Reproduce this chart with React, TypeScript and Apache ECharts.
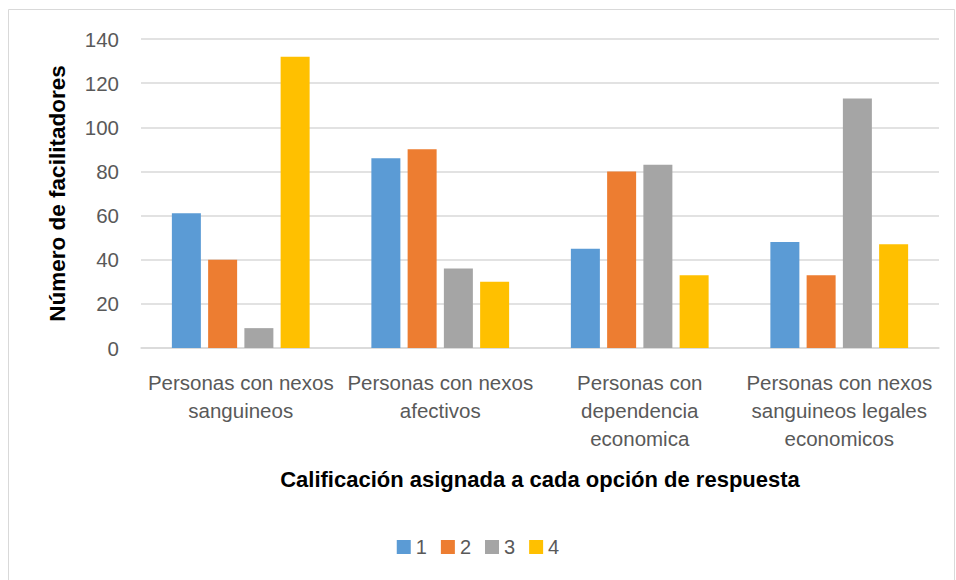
import React, { useEffect, useRef } from "react";
import * as echarts from "echarts";

const categories = [
  "Personas con nexos\nsanguineos",
  "Personas con nexos\nafectivos",
  "Personas con\ndependencia\neconomica",
  "Personas con nexos\nsanguineos legales\neconomicos",
];
const seriesNames = ["1", "2", "3", "4"];
const s1 = [61, 86, 45, 48];
const s2 = [40, 90, 80, 33];
const s3 = [9, 36, 83, 113];
const s4 = [132, 30, 33, 47];
const colors = ["#5B9BD5", "#ED7D31", "#A5A5A5", "#FFC000"];
const yTicks = { min: 0, max: 140, interval: 20 };

const FONT = "'Liberation Sans', Arial, sans-serif";

export default function App() {
  const ref = useRef<HTMLDivElement>(null);
  useEffect(() => {
    if (!ref.current) return;
    const chart = echarts.init(ref.current, null, { renderer: "svg" });
    const data = [s1, s2, s3, s4];
    chart.setOption({
      animation: false,
      textStyle: { fontFamily: FONT },
      graphic: [
        {
          type: "rect",
          shape: { x: 8.5, y: 9.5, width: 946, height: 580 },
          style: { fill: "none", stroke: "#d9d9d9", lineWidth: 1 },
          silent: true,
        },
      ],
      grid: { left: 141, right: 17, top: 39, bottom: 232 },
      legend: {
        data: seriesNames,
        bottom: 18,
        left: "center",
        icon: "rect",
        itemWidth: 14,
        itemHeight: 14,
        itemGap: 14,
        textStyle: { fontSize: 20, color: "#595959", fontFamily: FONT },
      },
      xAxis: {
        type: "category",
        data: categories,
        name: "Calificación asignada a cada opción de respuesta",
        nameLocation: "middle",
        nameGap: 120,
        nameTextStyle: { fontSize: 22, fontWeight: "bold", color: "#000", fontFamily: FONT },
        axisLine: { lineStyle: { color: "#d9d9d9", width: 1.5 } },
        axisTick: { show: false },
        axisLabel: { fontSize: 20.5, color: "#595959", lineHeight: 28, margin: 20, interval: 0, fontFamily: FONT },
      },
      yAxis: {
        type: "value",
        min: yTicks.min,
        max: yTicks.max,
        interval: yTicks.interval,
        name: "Número de facilitadores",
        nameLocation: "middle",
        nameGap: 72,
        nameTextStyle: { fontSize: 22.5, fontWeight: "bold", color: "#000", fontFamily: FONT },
        axisLine: { show: false },
        axisTick: { show: false },
        axisLabel: { fontSize: 20.5, color: "#595959", margin: 22, fontFamily: FONT },
        splitLine: { lineStyle: { color: "#d9d9d9", width: 1.5 } },
      },
      series: seriesNames.map((n, i) => ({
        name: n,
        type: "bar",
        data: data[i],
        barWidth: 29,
        barGap: "25%",
        itemStyle: { color: colors[i] },
      })),
    });
    return () => chart.dispose();
  }, []);
  return (
    <div
      ref={ref}
      style={{ position: "absolute", left: 0, top: 0, width: 956, height: 580, background: "#fff" }}
    />
  );
}
